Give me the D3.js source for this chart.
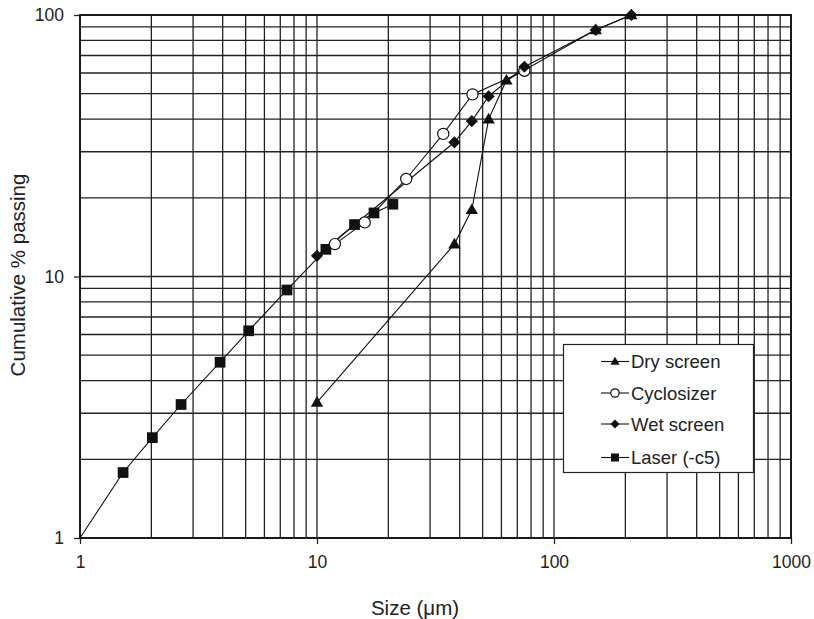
<!DOCTYPE html>
<html>
<head>
<meta charset="utf-8">
<script src="https://cdn.jsdelivr.net/npm/d3@7"></script>
<style>
  html, body { margin: 0; padding: 0; background: #fff; }
  svg { display: block; font-family: "Liberation Sans", Arial, sans-serif; }
</style>
</head>
<body>
<svg id="chart" width="814" height="619"></svg>
<script>
// Particle size distributions: size (µm) vs cumulative % passing
const drySizes  = [10, 38, 45, 53, 63, 150, 212];
const dryPass   = [3.3, 13.3, 18, 40, 56.3, 87.8, 100];

const cycloSizes = [11.9, 15.9, 23.8, 34.1, 45.3, 75];
const cycloPass  = [13.3, 16.1, 23.6, 35.1, 49.7, 61.2];

const wetSizes = [10, 38, 45, 53, 75, 150, 212];
const wetPass  = [12, 32.6, 39.3, 48.9, 63.4, 87.6, 100];

const laserSizes = [1.52, 2.02, 2.67, 3.9, 5.15, 7.47, 10.9, 14.4, 17.4, 20.9];
const laserPass  = [1.78, 2.42, 3.24, 4.7, 6.2, 8.88, 12.7, 15.8, 17.5, 18.9];
// laser curve is extended down to the origin of the plot
const laserLineStart = [1, 1];

const xTickLabels = [1, 10, 100, 1000];
const yTickLabels = [1, 10, 100];

const seriesNames = ["Dry screen", "Cyclosizer", "Wet screen", "Laser (-c5)"];

const svg = d3.select("#chart");
const x = d3.scaleLog().domain([1, 1000]).range([80, 791]);
const y = d3.scaleLog().domain([1, 100]).range([538, 15]);

// grid: every 1..9 multiple in each decade
const xGrid = [];
for (let d = 1; d < 1000; d *= 10) for (let k = 1; k <= 9; k++) xGrid.push(d * k);
xGrid.push(1000);
const yGrid = [];
for (let d = 1; d < 100; d *= 10) for (let k = 1; k <= 9; k++) yGrid.push(d * k);
yGrid.push(100);

const grid = svg.append("g").attr("stroke", "#222").attr("stroke-width", 1.3);
grid.selectAll("line.v").data(xGrid).join("line")
  .attr("x1", d => x(d)).attr("x2", d => x(d))
  .attr("y1", y(1)).attr("y2", y(100));
grid.selectAll("line.h").data(yGrid).join("line")
  .attr("y1", d => y(d)).attr("y2", d => y(d))
  .attr("x1", x(1)).attr("x2", x(1000));

// axes
const xAxis = d3.axisBottom(x).tickValues(xTickLabels).tickFormat(d3.format("d"))
  .tickSize(6).tickPadding(12);
const yAxis = d3.axisLeft(y).tickValues(yTickLabels).tickFormat(d3.format("d"))
  .tickSize(6).tickPadding(10);

const gx = svg.append("g").attr("transform", `translate(0,${y(1)})`).call(xAxis);
const gy = svg.append("g").attr("transform", `translate(${x(1)},0)`).call(yAxis);
[gx, gy].forEach(g => {
  g.select(".domain").remove();
  g.selectAll(".tick line").attr("stroke", "#222").attr("stroke-width", 1.3);
  g.selectAll(".tick text").attr("fill", "#222").style("font-size", "17.5px")
    .style("font-family", "Liberation Sans, Arial, sans-serif");
});

// frame
svg.append("rect")
  .attr("x", x(1)).attr("y", y(100))
  .attr("width", x(1000) - x(1)).attr("height", y(1) - y(100))
  .attr("fill", "none").attr("stroke", "#1a1a1a").attr("stroke-width", 2);

// axis titles
svg.append("text").attr("x", 415).attr("y", 615).attr("text-anchor", "middle")
  .style("font-size", "20.5px").attr("fill", "#222").text("Size (\u03BCm)");
svg.append("text").attr("transform", "translate(25,275) rotate(-90)")
  .attr("text-anchor", "middle").style("font-size", "20.5px").attr("fill", "#222")
  .text("Cumulative % passing");

// marker shapes
const sym = {
  tri: d3.symbol().type(d3.symbolTriangle),
  sq: d3.symbol().type(d3.symbolSquare)
};

function marker(g, kind, cx, cy, scale) {
  const s = scale || 1;
  if (kind === "tri") {
    g.append("path").attr("d", sym.tri.size(66 * s * s)())
      .attr("transform", `translate(${cx},${cy + 0.8 * s})`).attr("fill", "#111");
  } else if (kind === "circ") {
    g.append("circle").attr("cx", cx).attr("cy", cy).attr("r", 5.6 * s)
      .attr("fill", "#fff").attr("stroke", "#111").attr("stroke-width", 1.2);
  } else if (kind === "dia") {
    g.append("path").attr("d", sym.sq.size(74 * s * s)())
      .attr("transform", `translate(${cx},${cy}) rotate(45)`).attr("fill", "#111");
  } else {
    g.append("path").attr("d", sym.sq.size(115 * s * s)())
      .attr("transform", `translate(${cx},${cy})`).attr("fill", "#111");
  }
}

const line = d3.line().x(d => x(d[0])).y(d => y(d[1]));
const zip = (a, b) => a.map((v, i) => [v, b[i]]);

const series = [
  { kind: "sq",   pts: zip(laserSizes, laserPass), linePts: [laserLineStart].concat(zip(laserSizes, laserPass)) },
  { kind: "circ", pts: zip(cycloSizes, cycloPass) },
  { kind: "dia",  pts: zip(wetSizes, wetPass) },
  { kind: "tri",  pts: zip(drySizes, dryPass) }
];

const plot = svg.append("g");
series.forEach(s => {
  plot.append("path").attr("d", line(s.linePts || s.pts))
    .attr("fill", "none").attr("stroke", "#111").attr("stroke-width", 1.1);
});
series.forEach(s => {
  const g = plot.append("g");
  s.pts.forEach(p => marker(g, s.kind, x(p[0]), y(p[1])));
});

// legend
const lg = svg.append("g");
lg.append("rect").attr("x", 563.5).attr("y", 344.5).attr("width", 190).attr("height", 128)
  .attr("fill", "#fff").attr("stroke", "#222").attr("stroke-width", 1.2);
const legendKinds = ["tri", "circ", "dia", "sq"];
const rowY = [361.5, 393, 424, 457.5];
seriesNames.forEach((name, i) => {
  const yy = rowY[i];
  lg.append("line").attr("x1", 601).attr("x2", 629).attr("y1", yy).attr("y2", yy)
    .attr("stroke", "#111").attr("stroke-width", 1.1);
  marker(lg, legendKinds[i], 615, yy, 0.75);
  lg.append("text").attr("x", 631).attr("y", yy + 6.5).style("font-size", "18.5px")
    .attr("fill", "#222").text(name);
});
</script>
</body>
</html>
